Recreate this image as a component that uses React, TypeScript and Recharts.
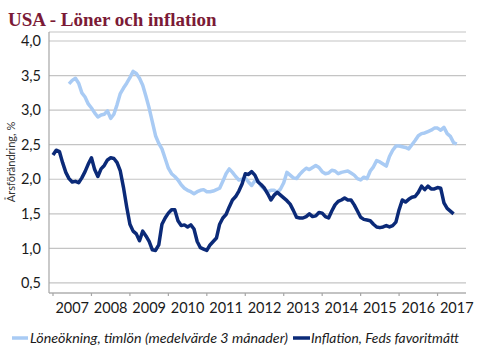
import React from 'react';
import { LineChart, Line, XAxis, YAxis, CartesianGrid } from 'recharts';

// USA - wage growth vs. Fed's favourite inflation gauge, monthly 2007-2017

const START_YEAR = 2007;

// Löneökning, timlön (3-mån medel), first value = Jun 2007
const WAGE_START = 5;
const wage = [
  3.38, 3.43, 3.46, 3.39, 3.25,
  3.19, 3.09, 3.03, 2.96, 2.9, 2.93, 2.94, 2.99, 2.88, 2.94,
  3.08, 3.24, 3.32, 3.39, 3.47, 3.56, 3.53, 3.46, 3.36, 3.2,
  3.03, 2.83, 2.63, 2.52, 2.44, 2.3, 2.16, 2.08, 2.04, 1.99,
  1.92, 1.87, 1.84, 1.82, 1.79, 1.82, 1.84, 1.85, 1.82, 1.82,
  1.83, 1.85, 1.87, 1.97, 2.08, 2.15, 2.1, 2.04, 1.99, 2.0,
  2.02, 1.96, 1.91, 1.98, 1.97, 1.9, 1.85, 1.82, 1.84, 1.84,
  1.81, 1.86, 1.95, 2.1, 2.06, 2.02, 2.01, 2.07, 2.12, 2.16,
  2.14, 2.17, 2.2, 2.17, 2.11, 2.08, 2.09, 2.13, 2.12, 2.08,
  2.1, 2.11, 2.12, 2.09, 2.06, 2.01, 1.99, 2.03, 2.01, 2.12,
  2.18, 2.27, 2.25, 2.22, 2.19, 2.33, 2.42, 2.48, 2.48, 2.47,
  2.46, 2.44, 2.5, 2.56, 2.63, 2.66, 2.67, 2.69, 2.71, 2.74,
  2.74, 2.71, 2.75, 2.66, 2.62, 2.53, 2.51,
];

// Inflation, Feds favoritmått, first value = Jan 2007
const INFL_START = 0;
const inflation = [
  2.35, 2.42, 2.4, 2.24, 2.1, 2.01, 1.96, 1.97, 1.95, 2.02,
  2.11, 2.22, 2.31, 2.14, 2.04, 2.15, 2.2, 2.28, 2.31, 2.3,
  2.24, 2.12, 1.88, 1.6, 1.35, 1.25, 1.21, 1.11, 1.25, 1.18,
  1.1, 0.98, 0.97, 1.05, 1.35, 1.44, 1.51, 1.56, 1.56, 1.4,
  1.33, 1.34, 1.31, 1.34, 1.28, 1.1, 1.01, 0.99, 0.97, 1.05,
  1.1, 1.15, 1.35, 1.44, 1.49, 1.6, 1.7, 1.75, 1.83, 1.93,
  2.08, 2.07, 2.11, 2.06, 1.96, 1.92, 1.87, 1.79, 1.7, 1.77,
  1.81, 1.77, 1.73, 1.69, 1.64, 1.55, 1.45, 1.44, 1.44, 1.46,
  1.5, 1.46, 1.47, 1.52, 1.51, 1.46, 1.44, 1.54, 1.63, 1.68,
  1.7, 1.73, 1.7, 1.7, 1.63, 1.54, 1.45, 1.42, 1.41, 1.4,
  1.35, 1.31, 1.3, 1.31, 1.33, 1.31, 1.33, 1.38, 1.56, 1.7,
  1.67, 1.71, 1.74, 1.75, 1.81, 1.9, 1.85, 1.9, 1.86, 1.86,
  1.88, 1.87, 1.66, 1.58, 1.54, 1.5,
];

const yearTicks = [2007, 2008, 2009, 2010, 2011, 2012, 2013, 2014, 2015, 2016, 2017];
const yTicks = [0.5, 1.0, 1.5, 2.0, 2.5, 3.0, 3.5, 4.0];

const LIGHT = '#a9cbf4';
const DARK = '#0b2a78';
const GRID = '#c4c4c4';
const AXIS = '#a6a6a6';
const FONT = 'Lato, "Open Sans", sans-serif';

const monthCount = Math.max(WAGE_START + wage.length, INFL_START + inflation.length);
const data = Array.from({ length: monthCount }, (_, m) => ({
  t: START_YEAR + m / 12,
  wage: m >= WAGE_START ? wage[m - WAGE_START] : undefined,
  infl: m >= INFL_START ? inflation[m - INFL_START] : undefined,
}));

const xDomain = [2006.896, 2017.74];
// year labels sit mid-way between the year tick marks
const labelTicks = yearTicks.map((y) => y + 0.5);

export default function App() {
  return (
    <div style={{ position: 'relative', width: 488, height: 358, fontFamily: FONT, background: '#fff' }}>
      <style>{'body{margin:0}'}</style>
      <LineChart width={488} height={330} data={data} margin={{ top: 32, right: 22, bottom: 0, left: 0 }}>
        <CartesianGrid vertical={false} stroke={GRID} strokeWidth={1.2} />
        <XAxis
          xAxisId={0}
          dataKey="t"
          type="number"
          domain={xDomain}
          ticks={yearTicks}
          height={4}
          tick={() => <g />}
          tickSize={3}
          stroke={AXIS}
          strokeWidth={1.2}
          allowDataOverflow
        />
        <XAxis
          xAxisId="lbl"
          dataKey="t"
          type="number"
          domain={xDomain}
          ticks={labelTicks}
          height={33}
          axisLine={false}
          tickLine={false}
          tickMargin={0}
          tickFormatter={(v: number) => String(Math.floor(v))}
          tick={{ fill: '#1a1a1a', fontSize: 14.5, fontFamily: FONT }}
          interval={0}
          allowDataOverflow
        />
        <YAxis
          width={49}
          domain={[0.355, 4.13]}
          ticks={yTicks}
          tickLine={false}
          stroke={AXIS}
          strokeWidth={1.2}
          tickFormatter={(v: number) => v.toFixed(1).replace('.', ',')}
          tick={{ fill: '#1a1a1a', fontSize: 14.5, fontFamily: FONT }}
          interval={0}
          allowDataOverflow
          label={{
            content: () => (
              <text
                x={15}
                y={162}
                transform="rotate(-90 15 162)"
                textAnchor="middle"
                fontSize={11}
                fontFamily={FONT}
                fill="#333"
              >
                Årsförändring, %
              </text>
            ),
          }}
        />
        <Line
          xAxisId={0}
          dataKey="wage"
          stroke={LIGHT}
          strokeWidth={3.5}
          dot={false}
          isAnimationActive={false}
          strokeLinejoin="round"
        />
        <Line
          xAxisId={0}
          dataKey="infl"
          stroke={DARK}
          strokeWidth={3.5}
          dot={false}
          isAnimationActive={false}
          strokeLinejoin="round"
        />
      </LineChart>
      <svg width={488} height={358} style={{ position: 'absolute', left: 0, top: 0, pointerEvents: 'none' }}>
        <text x={8} y={26} fontFamily='"Liberation Serif", "Times New Roman", serif' fontWeight="bold" fontSize={19} fill="#7b1a36">
          USA - Löner och inflation
        </text>
        <line x1={12} x2={28} y1={338} y2={338} stroke={LIGHT} strokeWidth={3.5} />
        <text x={30} y={343} fontFamily={FONT} fontStyle="italic" fontSize={14} fill="#1a1a1a" textLength={258} lengthAdjust="spacingAndGlyphs">
          Löneökning, timlön (medelvärde 3 månader)
        </text>
        <line x1={293} x2={310} y1={338} y2={338} stroke={DARK} strokeWidth={3.5} />
        <text x={311} y={343} fontFamily={FONT} fontStyle="italic" fontSize={14} fill="#1a1a1a" textLength={148} lengthAdjust="spacingAndGlyphs">
          Inflation, Feds favoritmått
        </text>
      </svg>
    </div>
  );
}
